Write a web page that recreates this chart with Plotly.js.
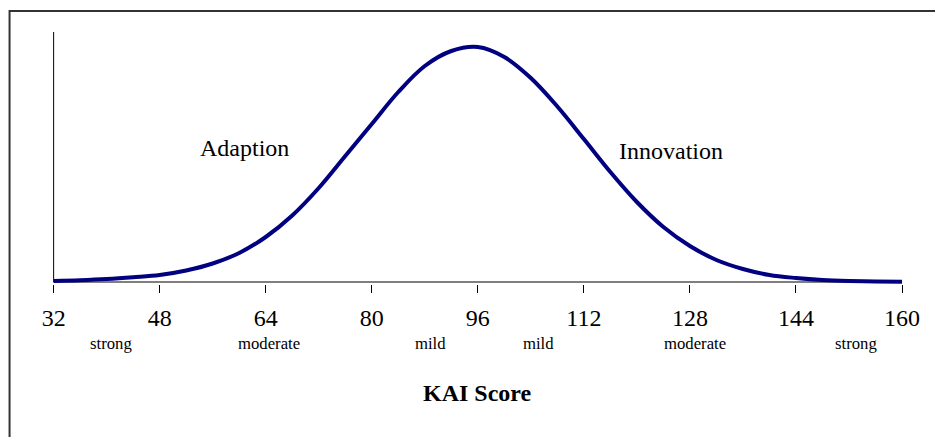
<!DOCTYPE html>
<html>
<head>
<meta charset="utf-8">
<script src="https://cdn.plot.ly/plotly-3.0.1.min.js"></script>
<style>html,body{margin:0;padding:0;background:#fff;}#chart{width:935px;height:437px;}</style>
</head>
<body>
<div id="chart"></div>
<script>
// KAI score distribution (curve height, arbitrary units)
const kaiScore = [32, 36, 40, 44, 48, 52, 56, 60, 64, 68, 72, 76, 80, 84, 88, 92, 96, 100, 104, 108, 112, 116, 120, 124, 128, 132, 136, 140, 144, 148, 152, 156, 160];
const curveHeight = [1, 1.8, 3, 4.8, 7, 11.5, 18.5, 29, 45, 66.5, 94, 126, 158, 190, 216, 231, 235, 225, 204, 175.5, 143, 110, 80, 55, 36, 22, 13, 7, 4, 2, 1, 0.5, 0.2];
const tickValues = [32, 48, 64, 80, 96, 112, 128, 144, 160];
const tickLabels = ["32", "48", "64", "80", "96", "112", "128", "144", "160"];
const bandLabels = ["strong", "moderate", "mild", "mild", "moderate", "strong"];
const bandCentres = [40.6, 64.5, 88.8, 105.2, 128.7, 153];
const sideLabels = ["Adaption", "Innovation"];
const axisTitle = "KAI Score";

const serif = "Liberation Serif, Times New Roman, serif";

const annotations = bandLabels.map((t, i) => ({
  text: t, x: bandCentres[i], xref: "x", y: -0.238, yref: "paper",
  showarrow: false, font: {family: serif, size: 16.7, color: "#000"},
  xanchor: "center", yanchor: "middle"
}));
annotations.push({text: sideLabels[0], x: 60.8, xref: "x", y: 134, yref: "y", showarrow: false,
  font: {family: serif, size: 24, color: "#000"}, xanchor: "center", yanchor: "middle"});
annotations.push({text: sideLabels[1], x: 125.2, xref: "x", y: 131, yref: "y", showarrow: false,
  font: {family: serif, size: 24, color: "#000"}, xanchor: "center", yanchor: "middle"});
annotations.push({text: "<b>" + axisTitle + "</b>", x: 96, xref: "x", y: -0.4325, yref: "paper", showarrow: false,
  font: {family: serif, size: 24, color: "#000"}, xanchor: "center", yanchor: "middle"});

const trace = {
  x: kaiScore, y: curveHeight, type: "scatter", mode: "lines",
  line: {color: "#000080", width: 4, shape: "spline", smoothing: 1},
  hoverinfo: "skip", showlegend: false
};

const layout = {
  width: 935, height: 437,
  margin: {l: 47.4, r: 33, t: 32, b: 153},
  paper_bgcolor: "#fff", plot_bgcolor: "#fff",
  xaxis: {
    range: [31, 160], showgrid: false, zeroline: false, showline: false,
    tickmode: "array", tickvals: tickValues, ticktext: tickLabels,
    ticks: "outside", ticklen: 8, tickwidth: 1, tickcolor: "#000",
    ticklabelstandoff: 4,
    tickfont: {family: serif, size: 24, color: "#000"}
  },
  yaxis: {
    range: [-2, 250], showgrid: false, zeroline: false, showline: false,
    showticklabels: false, ticks: ""
  },
  shapes: [
    {type: "line", xref: "x", yref: "y", x0: 32, x1: 160, y0: 0, y1: 0, line: {color: "#000", width: 1}, layer: "below"},
    {type: "line", xref: "x", yref: "paper", x0: 32, x1: 32, y0: 2/252, y1: 1, line: {color: "#000", width: 1}, layer: "below"},
    {type: "rect", xref: "paper", yref: "paper", x0: -0.0438, x1: 1.2, y0: 1.0833, y1: -0.8, line: {color: "#333", width: 2}, fillcolor: "rgba(0,0,0,0)"}
  ],
  annotations: annotations
};

Plotly.newPlot("chart", [trace], layout, {displayModeBar: false, staticPlot: true});
</script>
</body>
</html>
